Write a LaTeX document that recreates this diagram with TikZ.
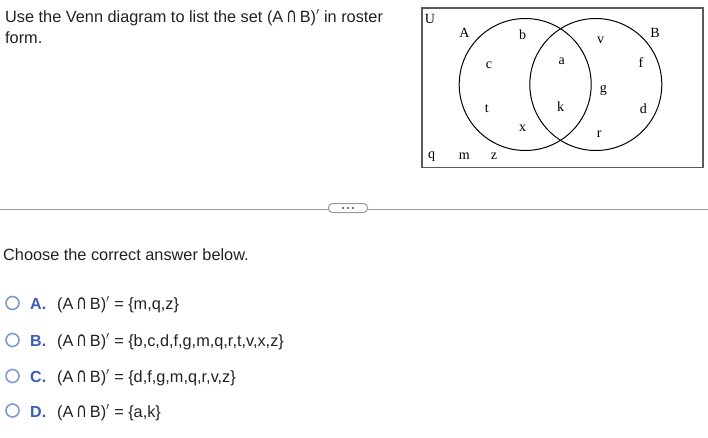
\documentclass[tikz,border=0pt]{standalone}
\usepackage{fontspec}
\usepackage{graphicx}
\setmainfont{Liberation Sans}
\newfontfamily\venn{Liberation Serif}
\newfontfamily\symf{DejaVu Sans}
\newcommand{\capsym}{\scalebox{1}[1.35]{\symf\fontsize{15}{19}\selectfont ∩}}
\newcommand{\primesym}{\raisebox{0.5pt}{$^{\prime}$}}
\newcommand{\AcapB}{(A\,\capsym\,B)\primesym}
\definecolor{optblue}{HTML}{3A5BC0}
\definecolor{radio}{HTML}{7E9BD8}
\definecolor{sepgray}{HTML}{9A9A9A}
\definecolor{txt}{HTML}{222222}
\begin{document}
\begin{tikzpicture}[x=1pt,y=-1pt,
  qtext/.style={anchor=base west,inner sep=0pt,font=\fontsize{16.3}{19}\selectfont,text=txt},
  vlab/.style={anchor=center,inner sep=0pt,font=\venn\fontsize{14}{16}\selectfont},
  optlet/.style={anchor=base west,inner sep=0pt,font=\bfseries\fontsize{16}{19}\selectfont,text=optblue},
  radiob/.style={circle,draw=radio,line width=1.6pt,minimum size=13pt,inner sep=0pt},
  vcircle/.style={draw=black,line width=1pt}]
\useasboundingbox (0,0) rectangle (708,437);
% question
\node[qtext] (q1) at (5,22.5) {Use the Venn diagram to list the set \AcapB\ in roster};
\node[qtext] (q2) at (5,43.3) {form.};
% venn box
\draw[draw=black!65,line width=1.5pt] (422,8) rectangle (703,167.5);
\draw[vcircle] (525.2,84.5) circle (66);
\draw[vcircle] (595.8,84.5) circle (66);
\node[vlab] (U) at (430,19) {U};
\node[vlab] (A) at (464.3,33.3) {A};
\node[vlab] (B) at (655,33.3) {B};
\node[vlab] (lb) at (522.7,35) {b};
\node[vlab] (lv) at (600.7,40.3) {v};
\node[vlab] (lc) at (489,65.3) {c};
\node[vlab] (la) at (561.7,61) {a};
\node[vlab] (lf) at (641,62.7) {f};
\node[vlab] (lg) at (603.3,90) {g};
\node[vlab] (lt) at (486.7,108.3) {t};
\node[vlab] (lk) at (560.7,106.7) {k};
\node[vlab] (ld) at (643.3,108.3) {d};
\node[vlab] (lx) at (522.7,128.7) {x};
\node[vlab] (lr) at (599.3,133.7) {r};
\node[vlab] (lq) at (431.7,157) {q};
\node[vlab] (lm) at (464.3,156) {m};
\node[vlab] (lz) at (494,156) {z};
% separator
\draw[sepgray,line width=1pt] (0,209) -- (708,209);
\node[draw=sepgray,fill=white,rounded corners=4pt,minimum width=39pt,minimum height=9pt,inner sep=0pt,line width=1pt] (dots) at (348,208) {};
\foreach \dx in {-5,0,5}{\fill[black!70] (348+\dx,208) circle (1.1);}
% choose
\node[qtext] (ch) at (3,260) {Choose the correct answer below.};
% options
\node[radiob] (ra) at (12.5,303) {};
\node[optlet] (oa) at (30,309.5) {A.};
\node[qtext] (ta) at (57,309.5) {\AcapB\ = \{m,q,z\}};
\node[radiob] (rb) at (12.5,340) {};
\node[optlet] (ob) at (30,346.5) {B.};
\node[qtext] (tb) at (57,346.5) {\AcapB\ = \{b,c,d,f,g,m,q,r,t,v,x,z\}};
\node[radiob] (rc) at (12.5,376) {};
\node[optlet] (oc) at (30,382.5) {C.};
\node[qtext] (tc) at (57,382.5) {\AcapB\ = \{d,f,g,m,q,r,v,z\}};
\node[radiob] (rd) at (12.5,410.5) {};
\node[optlet] (od) at (30,417) {D.};
\node[qtext] (td) at (57,417) {\AcapB\ = \{a,k\}};
\end{tikzpicture}
\end{document}
